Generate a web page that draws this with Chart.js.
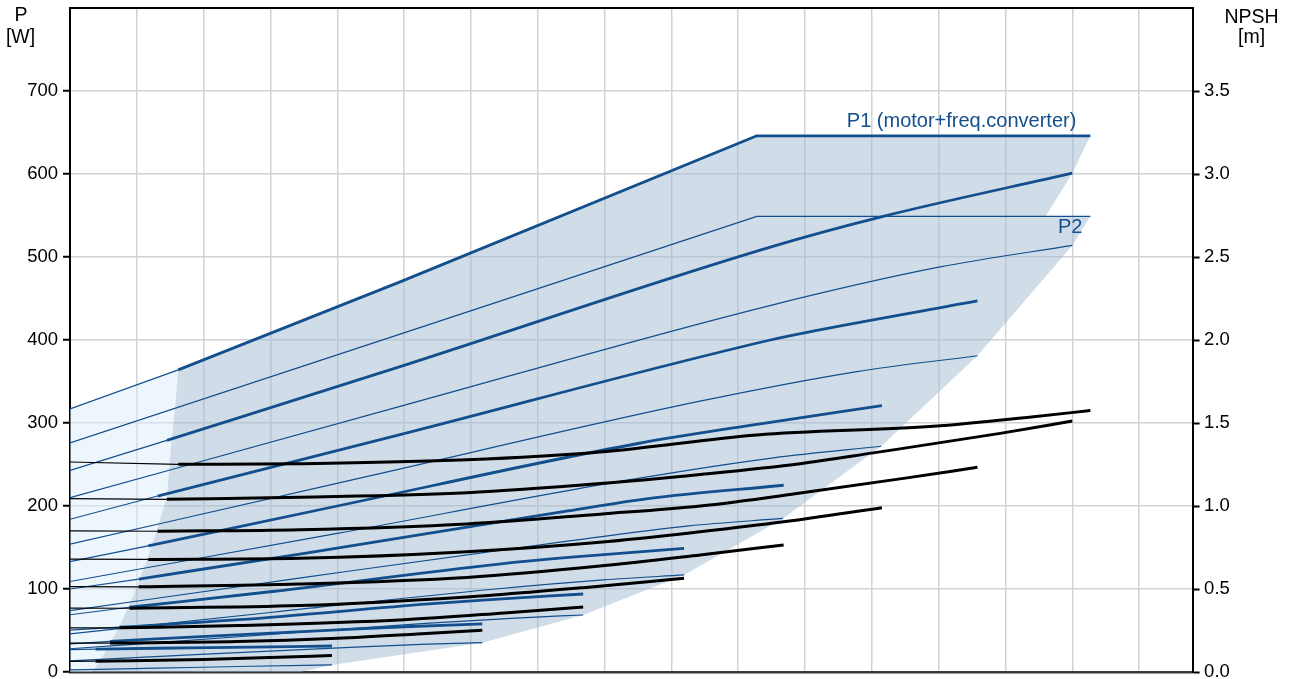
<!DOCTYPE html>
<html>
<head>
<meta charset="utf-8">
<script src="https://cdn.jsdelivr.net/npm/chart.js@4.4.1/dist/chart.umd.min.js"></script>
<style>
html,body{margin:0;padding:0;background:#fff;}
#wrap{width:1294px;height:679px;position:relative;}
</style>
</head>
<body>
<div id="wrap"><canvas id="c"></canvas></div>
<script>
// ---------- tick values ----------
const xTicks = [0,1,2,3,4,5,6,7,8,9,10,11,12,13,14,15,16];
const pTicks = [0,100,200,300,400,500,600,700];
const npshTicks = [0,0.5,1.0,1.5,2.0,2.5,3.0,3.5];

// minimum flow (start of the operating range) for each speed curve, index 0 = max curve
const minFlow = [1.62,1.45,1.31,1.17,1.03,0.89,0.74,0.6,0.38];

// ---------- P1 curves [Q, W] ----------
const p1_0 = [[0,317],[1.62,364],[4.94,470],[10.28,646],[15.27,646]];
const p1_1 = [[0,243],[1.45,279],[4.94,368],[10.48,512],[12.17,549],[15.0,601]];
const p1_2 = [[0,184],[1.31,212],[4.94,286],[10.48,400],[11.01,409],[13.58,447]];
const p1_3 = [[0,133],[1.17,152],[4.0,200],[8.48,275],[10.33,299],[12.15,321]];
const p1_4 = [[0,100],[1.03,112],[3.51,143],[7.45,194],[8.65,209],[10.68,225]];
const p1_5 = [[0,69],[0.89,78],[3.03,97],[6.42,130],[7.46,138],[9.19,149]];
const p1_6 = [[0,50.5],[0.74,54],[2.53,63],[5.37,82],[6.23,87],[7.68,94]];
const p1_7 = [[0,34],[0.6,37],[2.03,43],[4.31,52],[5.0,54.5],[6.17,58]];
const p1_8 = [[0,27],[0.38,27.5],[1.29,28.6],[2.74,30],[3.92,31.3]];

// ---------- P2 curves [Q, W] ----------
const p2_0 = [[0,276],[4.94,407],[10.28,549],[15.27,549]];
const p2_1 = [[0,210],[4.94,320],[10.4,440],[13.02,488],[15.0,514]];
const p2_2 = [[0,154],[4.47,236],[9.41,326],[11.78,362],[13.58,381]];
const p2_3 = [[0,109],[4.0,167],[8.41,232],[10.53,258],[12.14,272]];
const p2_4 = [[0,74],[3.51,114],[7.39,157],[9.26,176],[10.67,185]];
const p2_5 = [[0,46],[3.03,72],[6.37,100],[7.98,111],[9.19,117]];
const p2_6 = [[0,28],[2.53,42.5],[5.32,58.5],[6.67,65],[7.68,68.7]];
const p2_7 = [[0,13.5],[2.03,21.5],[4.27,30],[5.35,33.5],[6.17,35.3]];
const p2_8 = [[0,2.5],[1.3,4.6],[2.7,6.9],[3.92,8.5]];

// ---------- NPSH curves [Q, m] ----------
const npsh_0 = [[0,1.265],[1.62,1.251],[3.44,1.255],[5.94,1.278],[7.93,1.325],[10.28,1.428],[12.92,1.48],[14.42,1.538],[15.27,1.575]];
const npsh_1 = [[0,1.045],[1.45,1.04],[3.44,1.053],[5.94,1.08],[7.93,1.135],[9.43,1.19],[10.93,1.255],[12.02,1.32],[13.92,1.4375],[15.0,1.512]];
const npsh_2 = [[0,0.85],[1.31,0.848],[3.44,0.857],[5.94,0.892],[7.93,0.951],[9.43,1.0],[10.93,1.078],[12.5,1.168],[13.58,1.233]];
const npsh_3 = [[0,0.68],[1.17,0.678],[3.44,0.685],[5.94,0.725],[7.93,0.782],[9.43,0.845],[10.68,0.905],[12.15,0.99]];
const npsh_4 = [[0,0.514],[1.03,0.513],[3.44,0.53],[5.94,0.57],[7.93,0.638],[9.43,0.705],[10.68,0.765]];
const npsh_5 = [[0,0.385],[0.89,0.384],[3.44,0.4],[5.94,0.452],[7.68,0.508],[9.19,0.565]];
const npsh_6 = [[0,0.266],[0.74,0.266],[2.53,0.28],[5.0,0.315],[6.5,0.356],[7.68,0.392]];
const npsh_7 = [[0,0.174],[0.6,0.174],[2.5,0.183],[4.0,0.203],[5.2,0.229],[6.17,0.252]];
const npsh_8 = [[0,0.064],[0.38,0.065],[2.0,0.076],[3.0,0.087],[3.92,0.099]];

// ---------- operating area edges [Q, W] ----------
const fillLeftEdge = [[0.33,0],[0.42,10],[0.52,23],[0.77,60],[0.97,96],[1.15,135],[1.30,171],[1.45,211],[1.52,280],[1.57,316],[1.62,364]];
const fillJoin = [[14.6,549]];
const fillBottomEdge = [[3.45,0]];

// ---------- curve labels ----------
const curveLabels = [
  {text:'P1 (motor+freq.converter)', x:15.06, y:656.5},
  {text:'P2', x:15.15, y:528.5}
];

// ---------- build ----------
const BLUE = 'rgb(18,79,140)';
const FONT = "'Liberation Sans', Arial, Helvetica, sans-serif";
const P1 = [p1_0,p1_1,p1_2,p1_3,p1_4,p1_5,p1_6,p1_7,p1_8];
const P2 = [p2_0,p2_1,p2_2,p2_3,p2_4,p2_5,p2_6,p2_7,p2_8];
const NPSH = [npsh_0,npsh_1,npsh_2,npsh_3,npsh_4,npsh_5,npsh_6,npsh_7,npsh_8];

function toXY(a){ return a.map(p => ({x:p[0], y:p[1]})); }
function lineDs(points, color, width, axis, straight, order){
  return {
    data: toXY(points), yAxisID: axis, borderColor: color, borderWidth: width,
    pointRadius: 0, pointHoverRadius: 0, fill: false, tension: 0,
    cubicInterpolationMode: straight ? 'default' : 'monotone',
    borderCapStyle: 'butt', borderJoinStyle: 'round', order: order
  };
}

const datasets = [];
// fills
const lightPoly = [[0,0], ...p1_0.filter(p => p[0] <= minFlow[0]), ...fillLeftEdge.slice().reverse()];
const darkPoly = [
  ...fillLeftEdge,
  ...p1_0.filter(p => p[0] > minFlow[0]),
  p1_1[p1_1.length-1],
  ...fillJoin,
  p2_0[p2_0.length-1],
  ...P2.slice(1).map(c => c[c.length-1]),
  ...fillBottomEdge
];
datasets.push({data: toXY(lightPoly), yAxisID:'y', borderWidth:0, borderColor:'rgba(0,0,0,0)',
  backgroundColor:'rgba(221,237,251,0.5)', fill:'shape', pointRadius:0, tension:0, order:30});
datasets.push({data: toXY(darkPoly), yAxisID:'y', borderWidth:0, borderColor:'rgba(0,0,0,0)',
  backgroundColor:'rgba(161,185,209,0.5)', fill:'shape', pointRadius:0, tension:0, order:29});

// P2 (thin)
P2.forEach((c,k) => datasets.push(lineDs(c, BLUE, 1.2, 'y', k===0, 5)));
// P1 (thin below min flow, thick in operating range)
P1.forEach((c,k) => {
  const xm = minFlow[k];
  datasets.push(lineDs(c.filter(p => p[0] <= xm), BLUE, 1.2, 'y', true, 4));
  datasets.push(lineDs(c.filter(p => p[0] >= xm), BLUE, 2.8, 'y', k===0, 3));
});
// NPSH
NPSH.forEach((c,k) => {
  const xm = minFlow[k];
  datasets.push(lineDs(c.filter(p => p[0] <= xm), '#000', 1.2, 'y2', true, 2));
  datasets.push(lineDs(c.filter(p => p[0] >= xm), '#000', 3, 'y2', false, 1));
});

const textPlugin = {
  id: 'texts',
  afterDraw(chart){
    const {ctx, chartArea, scales} = chart;
    ctx.save();
    ctx.fillStyle = '#000';
    ctx.font = '19.5px ' + FONT;
    ctx.textAlign = 'center';
    ctx.textBaseline = 'alphabetic';
    const lx = chartArea.left - 49.5, rx = chartArea.right + 59;
    ctx.fillText('P', lx + 0.5, chartArea.top + 13);
    ctx.fillText('[W]', lx, chartArea.top + 34.5);
    ctx.fillText('NPSH', rx, chartArea.top + 15.3);
    ctx.fillText('[m]', rx, chartArea.top + 35);
    ctx.fillStyle = BLUE;
    ctx.font = '20px ' + FONT;
    ctx.textAlign = 'right';
    curveLabels.forEach(l => {
      ctx.fillText(l.text, scales.x.getPixelForValue(l.x), scales.y.getPixelForValue(l.y));
    });
    ctx.restore();
  }
};

function noPad(s){ s.paddingTop = 0; s.paddingBottom = 0; s.paddingLeft = 0; s.paddingRight = 0; }
const GRID = 'rgb(208,210,213)';
new Chart(document.getElementById('c'), {
  type: 'line',
  data: { datasets },
  options: {
    responsive: true, maintainAspectRatio: false, animation: false,
    events: [],
    layout: { padding: 0 },
    plugins: { legend: {display:false}, tooltip: {enabled:false} },
    scales: {
      x: {
        type: 'linear', position: 'bottom', min: 0, max: 16.8,
        afterBuildTicks: s => { s.ticks = xTicks.map(v => ({value:v})); },
        afterFit: s => { s.height = 7; noPad(s); },
        ticks: { display: false },
        grid: { color: GRID, lineWidth: 1.5, drawTicks: false },
        border: { display: true, color: '#3a3a3a', width: 2.5 }
      },
      xTop: {
        type: 'linear', position: 'top', min: 0, max: 16.8,
        afterFit: s => { s.height = 8; noPad(s); },
        ticks: { display: false },
        grid: { display: false, drawOnChartArea: false, drawTicks: false },
        border: { display: true, color: '#000', width: 2 }
      },
      y: {
        type: 'linear', position: 'left', min: 0, max: 800,
        afterBuildTicks: s => { s.ticks = pTicks.map(v => ({value:v})); },
        afterFit: s => { s.width = 70; noPad(s); },
        ticks: { color: '#000', padding: 5, font: {family: FONT, size: 18.5}, autoSkip: false },
        grid: { color: GRID, lineWidth: 1.5, tickColor: '#000', tickLength: 7, tickWidth: 2 },
        border: { display: true, color: '#000', width: 2 }
      },
      y2: {
        type: 'linear', position: 'right', min: 0, max: 4,
        afterBuildTicks: s => { s.ticks = npshTicks.map(v => ({value:v})); },
        afterFit: s => { s.width = 101.4; noPad(s); },
        ticks: { color: '#000', padding: 4.5, font: {family: FONT, size: 18.5}, autoSkip: false,
                 callback: v => Number(v).toFixed(1) },
        grid: { drawOnChartArea: false, tickColor: '#000', tickLength: 7, tickWidth: 2 },
        border: { display: true, color: '#000', width: 2 }
      }
    }
  },
  plugins: [textPlugin]
});
</script>
</body>
</html>
